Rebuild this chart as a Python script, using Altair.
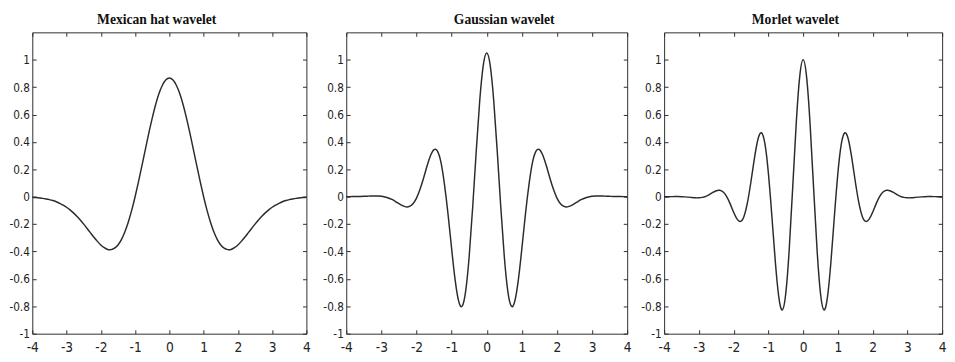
import altair as alt
import pandas as pd

x_vals = [-4.0, -3.9, -3.8, -3.7, -3.6, -3.5, -3.4, -3.3, -3.2, -3.1,
          -3.0, -2.9, -2.8, -2.7, -2.6, -2.5, -2.4, -2.3, -2.2, -2.1,
          -2.0, -1.9, -1.8, -1.7, -1.6, -1.5, -1.4, -1.3, -1.2, -1.1,
          -1.0, -0.9, -0.8, -0.7, -0.6, -0.5, -0.4, -0.3, -0.2, -0.1,
          0.0,
          0.1, 0.2, 0.3, 0.4, 0.5, 0.6, 0.7, 0.8, 0.9, 1.0,
          1.1, 1.2, 1.3, 1.4, 1.5, 1.6, 1.7, 1.8, 1.9, 2.0,
          2.1, 2.2, 2.3, 2.4, 2.5, 2.6, 2.7, 2.8, 2.9, 3.0,
          3.1, 3.2, 3.3, 3.4, 3.5, 3.6, 3.7, 3.8, 3.9, 4.0]

mexican_hat = [-0.004, -0.006, -0.009, -0.012, -0.016, -0.021, -0.028, -0.037, -0.048, -0.061,
               -0.077, -0.096, -0.118, -0.143, -0.170, -0.200, -0.232, -0.264, -0.296, -0.326,
               -0.352, -0.372, -0.385, -0.386, -0.376, -0.352, -0.313, -0.257, -0.186, -0.100,
               0.0, 0.110, 0.227, 0.346, 0.464, 0.574, 0.673, 0.755, 0.816, 0.854,
               0.867,
               0.854, 0.816, 0.755, 0.673, 0.574, 0.464, 0.346, 0.227, 0.110, 0.0,
               -0.100, -0.186, -0.257, -0.313, -0.352, -0.376, -0.386, -0.385, -0.372, -0.352,
               -0.326, -0.296, -0.264, -0.232, -0.200, -0.170, -0.143, -0.118, -0.096, -0.077,
               -0.061, -0.048, -0.037, -0.028, -0.021, -0.016, -0.012, -0.009, -0.006, -0.004]

gaussian = [0.0003, 0.0006, 0.001, 0.0015, 0.002, 0.003, 0.004, 0.005, 0.005, 0.005,
            0.003, -0.002, -0.009, -0.020, -0.035, -0.050, -0.065, -0.074, -0.071, -0.051,
            -0.010, 0.054, 0.135, 0.224, 0.301, 0.344, 0.331, 0.247, 0.083, -0.132,
            -0.379, -0.607, -0.762, -0.799, -0.689, -0.436, -0.075, 0.329, 0.699, 0.957,
            1.050,
            0.957, 0.699, 0.329, -0.075, -0.436, -0.689, -0.799, -0.762, -0.607, -0.379,
            -0.132, 0.083, 0.247, 0.331, 0.344, 0.301, 0.224, 0.135, 0.054, -0.010,
            -0.051, -0.071, -0.074, -0.065, -0.050, -0.035, -0.020, -0.009, -0.002, 0.003,
            0.005, 0.005, 0.005, 0.004, 0.003, 0.002, 0.0015, 0.001, 0.0006, 0.0003]

morlet = [0.0001, 0.0004, 0.0007, 0.001, 0.001, 0.0005, -0.001, -0.003, -0.006, -0.008,
          -0.008, -0.005, 0.003, 0.016, 0.031, 0.044, 0.047, 0.034, 0.000, -0.052,
          -0.114, -0.164, -0.180, -0.142, -0.040, 0.113, 0.283, 0.420, 0.467, 0.387,
          0.172, -0.141, -0.475, -0.733, -0.827, -0.707, -0.384, 0.068, 0.530, 0.873,
          1.000,
          0.873, 0.530, 0.068, -0.384, -0.707, -0.827, -0.733, -0.475, -0.141, 0.172,
          0.387, 0.467, 0.420, 0.283, 0.113, -0.040, -0.142, -0.180, -0.164, -0.114,
          -0.052, 0.000, 0.034, 0.047, 0.044, 0.031, 0.016, 0.003, -0.005, -0.008,
          -0.008, -0.006, -0.003, -0.001, 0.0005, 0.001, 0.001, 0.0007, 0.0004, 0.0001]

titles = ["Mexican hat wavelet", "Gaussian wavelet", "Morlet wavelet"]
x_ticks = [-4, -3, -2, -1, 0, 1, 2, 3, 4]
y_ticks = [-1, -0.8, -0.6, -0.4, -0.2, 0, 0.2, 0.4, 0.6, 0.8, 1]

LABEL_FONT = "Liberation Sans Narrow, DejaVu Sans Condensed, Roboto, sans-serif"
TITLE_FONT = "Liberation Serif, DejaVu Serif, serif"
INK = "#2b2b2b"
PLOT_H = 310


def panel(values, title, width, y_extent, title_dx):
    df = pd.DataFrame({"x": x_vals, "y": values})
    xs = alt.Scale(domain=[-4, 4], nice=False, zero=False)
    ys = alt.Scale(domain=[-1, 1.2], nice=False, zero=False)
    common = dict(
        ticks=True, tickSize={"expr": "-4"}, tickColor=INK, tickWidth=1,
        domain=False, grid=False, title=None,
        labelFont=LABEL_FONT, labelColor="#222",
        labelOverlap=False,
    )
    bottom = alt.Axis(orient="bottom", values=x_ticks, labelPadding=11,
                      labelFontSize=14,
                      labelFlush=False, labelExpr="'' + datum.value", **common)
    left = alt.Axis(orient="left", values=y_ticks, labelPadding=7,
                    labelFontSize=12,
                    labelExpr="'' + datum.value",
                    minExtent=y_extent, maxExtent=y_extent, **common)
    top = alt.Axis(orient="top", values=x_ticks, labels=False,
                   minExtent=0, maxExtent=0, **common)
    right = alt.Axis(orient="right", values=y_ticks, labels=False,
                     minExtent=0, maxExtent=0, **common)
    line = alt.Chart(df).mark_line(
        color=INK, strokeWidth=1.5, interpolate="natural"
    ).encode(
        x=alt.X("x:Q", scale=xs, axis=bottom),
        y=alt.Y("y:Q", scale=ys, axis=left),
    )
    frame = alt.Chart(df).mark_line(opacity=0).encode(
        x=alt.X("x:Q", scale=xs, axis=top),
        y=alt.Y("y:Q", scale=ys, axis=right),
    )
    return alt.layer(line, frame).resolve_axis(
        x="independent", y="independent"
    ).properties(
        width=width, height=PLOT_H,
        title=alt.TitleParams(
            title, font=TITLE_FONT, fontSize=14, fontWeight="bold",
            color="#111", anchor="middle", offset=5, dx=title_dx,
        ),
    )


p1 = panel(mexican_hat, titles[0], 282, 20, -13)
p2 = panel(gaussian, titles[1], 289, 27, 18)
p3 = panel(morlet, titles[2], 286, 20, -8)

chart = alt.hconcat(p1, p2, p3, spacing=8).properties(
    padding={"left": 0, "top": 0, "right": 0, "bottom": 0},
    background="white",
).configure_view(
    stroke=INK, strokeWidth=1,
)

chart.save("out.html", embed_options={"renderer": "svg", "actions": False})
